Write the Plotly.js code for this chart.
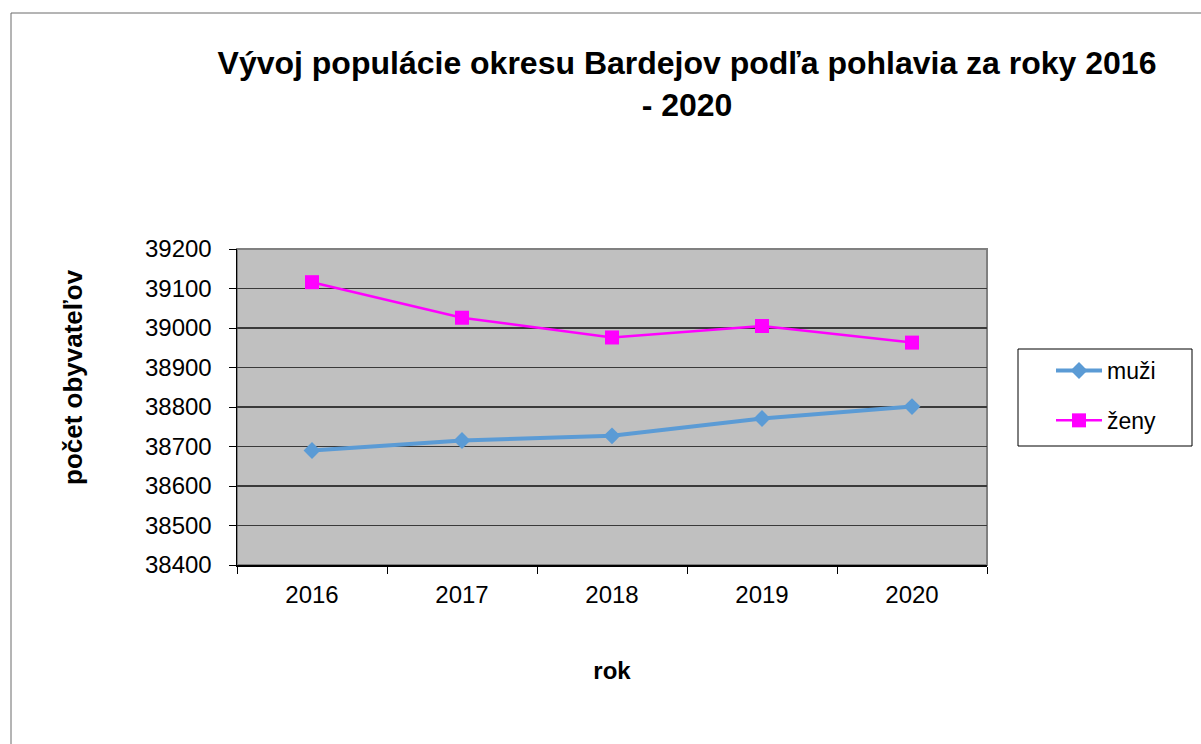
<!DOCTYPE html>
<html>
<head>
<meta charset="utf-8">
<script src="https://cdn.plot.ly/plotly-3.0.1.min.js"></script>
<style>
  html, body { margin: 0; padding: 0; background: #ffffff; }
  #chart { width: 1201px; height: 744px; }
</style>
</head>
<body>
<div id="chart"></div>
<script>
// ---- data ----
const years = ["2016", "2017", "2018", "2019", "2020"];
const muzi = [38690, 38715, 38727, 38771, 38801];
const zeny = [39116, 39026, 38976, 39005, 38963];
const seriesNames = ["muži", "ženy"];
const yTicks = [38400, 38500, 38600, 38700, 38800, 38900, 39000, 39100, 39200];
const titleText = "Vývoj populácie okresu Bardejov podľa pohlavia za roky 2016<br>- 2020";
const xTitle = "rok";
const yTitle = "počet obyvateľov";

const FONT = "Liberation Sans, Arial, sans-serif";

const traces = [
  {
    x: years, y: muzi, name: seriesNames[0], type: "scatter", mode: "lines+markers",
    line: { color: "#5b9bd5", width: 4 },
    marker: { symbol: "diamond", size: 13, color: "#5b9bd5" },
    legendgroup: "a"
  },
  {
    x: years, y: zeny, name: seriesNames[1], type: "scatter", mode: "lines+markers",
    line: { color: "#ff00ff", width: 2.5 },
    marker: { symbol: "square", size: 14, color: "#ff00ff" },
    legendgroup: "b"
  }
];

const L = 237, R = 1201 - 987, T = 249, B = 744 - 565;
const pw = 750, ph = 316;
const px = v => (v - L) / pw;          // pixel x -> paper x
const py = v => 1 - (v - T) / ph;      // pixel y -> paper y

const layout = {
  width: 1201, height: 744,
  margin: { l: L, r: R, t: T, b: B, pad: 0 },
  paper_bgcolor: "#ffffff",
  plot_bgcolor: "#c0c0c0",
  font: { family: FONT, color: "#000000", size: 24 },
  title: {
    text: "<b>" + titleText + "</b>",
    font: { family: FONT, size: 32, color: "#000000" },
    xref: "paper", x: 0.6, xanchor: "center",
    yref: "container", y: 1 - 74 / 744, yanchor: "top"
  },
  xaxis: {
    type: "category",
    range: [-0.5, 4.5],
    tickson: "boundaries",
    ticks: "outside", ticklen: 7, tickwidth: 1, tickcolor: "#000000",
    showline: true, linecolor: "#000000", linewidth: 1.5,
    showgrid: false, zeroline: false,
    tickfont: { family: FONT, size: 24, color: "#000000" },
    ticklabelstandoff: 8,
    title: { text: "<b>" + xTitle + "</b>", font: { family: FONT, size: 24, color: "#000000" }, standoff: 55 },
    automargin: false, fixedrange: true
  },
  yaxis: {
    range: [38400, 39200],
    tickmode: "array", tickvals: yTicks, ticktext: yTicks.map(String),
    ticks: "outside", ticklen: 7, tickwidth: 1, tickcolor: "#000000",
    showline: true, linecolor: "#000000", linewidth: 1.5,
    showgrid: true, gridcolor: "#3a3a3a", gridwidth: 1.5,
    zeroline: false,
    tickfont: { family: FONT, size: 24, color: "#000000" },
    ticklabelstandoff: 12,
    automargin: false, fixedrange: true
  },
  annotations: [
    {
      text: "<b>" + yTitle + "</b>", textangle: -90,
      xref: "paper", yref: "paper", x: px(73), y: py(377),
      xanchor: "center", yanchor: "middle", showarrow: false,
      font: { family: FONT, size: 26, color: "#000000" }
    }
  ],
  showlegend: true,
  legend: {
    x: px(1051), xanchor: "left",
    y: py(349), yanchor: "top",
    bgcolor: "rgba(0,0,0,0)", borderwidth: 0,
    font: { family: FONT, size: 23, color: "#000000" },
    traceorder: "grouped", tracegroupgap: 17,
    itemwidth: 46
  },
  shapes: [
    {
      type: "rect", xref: "paper", yref: "paper",
      x0: 0, x1: 1, y0: 0, y1: 1,
      line: { color: "#808080", width: 2 }, layer: "below"
    },
    {
      type: "rect", xref: "paper", yref: "paper",
      x0: px(11), x1: px(1210), y0: py(760), y1: py(13),
      line: { color: "#6a6a6a", width: 1 }, fillcolor: "rgba(0,0,0,0)", layer: "below"
    },
    {
      type: "rect", xref: "paper", yref: "paper",
      x0: px(1018), x1: px(1192), y0: py(446), y1: py(349),
      line: { color: "#000000", width: 1 }, fillcolor: "#ffffff", layer: "below"
    }
  ],
  hovermode: false
};

Plotly.newPlot("chart", traces, layout, { displayModeBar: false, staticPlot: true });
</script>
</body>
</html>
